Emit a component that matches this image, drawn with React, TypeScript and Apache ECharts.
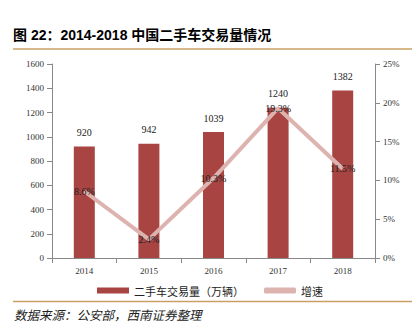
import React, { useEffect, useRef } from "react";
import * as echarts from "echarts";

const years = ["2014", "2015", "2016", "2017", "2018"];
const volume = [920, 942, 1039, 1240, 1382];
const growth = [8.6, 2.4, 10.3, 19.3, 11.5];
const leftTicks = [0, 1600, 200];
const rightTicks = [0, 25, 5];

const serif = "'Liberation Serif', 'Times New Roman', serif";
const cjk = "'Liberation Sans', 'Noto Sans CJK SC', sans-serif";

export default function App() {
  const ref = useRef<HTMLDivElement>(null);
  useEffect(() => {
    const chart = echarts.init(ref.current!, null, { renderer: "svg" });
    chart.setOption({
      animation: false,
      backgroundColor: "#fff",
      graphic: [
        {
          type: "text",
          left: 13,
          top: 28,
          style: {
            text: "图 22：2014-2018 中国二手车交易量情况",
            font: "bold 14px " + cjk,
            fill: "#000",
          },
        },
        {
          type: "line",
          shape: { x1: 13, y1: 49, x2: 412, y2: 49 },
          style: { stroke: "#C9A063", lineWidth: 1.5 },
        },
        {
          type: "line",
          shape: { x1: 13, y1: 301.5, x2: 412, y2: 301.5 },
          style: { stroke: "#C9A063", lineWidth: 1.5 },
        },
        {
          type: "text",
          left: 14,
          top: 308,
          style: {
            text: "数据来源：公安部，西南证券整理",
            font: "italic 12.5px 'Noto Sans CJK SC', sans-serif",
            fill: "#222",
          },
        },
      ],
      legend: {
        top: 280,
        left: "center",
        itemGap: 20,
        itemWidth: 32,
        itemHeight: 6,
        textStyle: { fontSize: 11, fontFamily: "'Noto Sans CJK SC', sans-serif", color: "#222" },
        data: [
          { name: "二手车交易量（万辆）", icon: "rect" },
          { name: "增速", icon: "roundRect", itemStyle: { color: "#DDB3B0" } },
        ],
      },
      grid: { left: 52, right: 45, top: 64, bottom: 72 },
      xAxis: {
        type: "category",
        data: years,
        axisLine: { lineStyle: { color: "#888" } },
        axisTick: { show: true, lineStyle: { color: "#888" } },
        axisLabel: { color: "#333", fontSize: 9, fontFamily: serif, margin: 8 },
      },
      yAxis: [
        {
          type: "value",
          min: leftTicks[0],
          max: leftTicks[1],
          interval: leftTicks[2],
          splitLine: { show: false },
          axisLine: { show: true, lineStyle: { color: "#888" } },
          axisTick: { show: true, lineStyle: { color: "#888" } },
          axisLabel: { color: "#333", fontSize: 9, fontFamily: serif, margin: 8, formatter: (v: number) => String(v) },
        },
        {
          type: "value",
          min: rightTicks[0],
          max: rightTicks[1],
          interval: rightTicks[2],
          splitLine: { show: false },
          axisLine: { show: true, lineStyle: { color: "#888" } },
          axisTick: { show: true, lineStyle: { color: "#888" } },
          axisLabel: { color: "#333", fontSize: 9, fontFamily: serif, margin: 8, formatter: "{value}%" },
        },
      ],
      series: [
        {
          name: "二手车交易量（万辆）",
          type: "bar",
          data: volume,
          barWidth: 21,
          itemStyle: { color: "#A84442" },
          label: {
            show: true,
            position: "top",
            distance: 9,
            color: "#222",
            fontSize: 10,
            fontFamily: serif,
          },
        },
        {
          name: "增速",
          type: "line",
          yAxisIndex: 1,
          data: growth,
          symbol: "circle",
          symbolSize: 1,
          showSymbol: true,
          lineStyle: { color: "#DDB3B0", width: 4 },
          itemStyle: { color: "#DDB3B0" },
          label: {
            show: true,
            position: "inside",
            color: "#222",
            fontSize: 10,
            fontFamily: serif,
            formatter: (p: any) => p.value + "%",
          },
        },
      ],
    });
    return () => chart.dispose();
  }, []);
  return (
    <div
      ref={ref}
      style={{ width: 420, height: 330, position: "absolute", left: 0, top: 0 }}
    />
  );
}
